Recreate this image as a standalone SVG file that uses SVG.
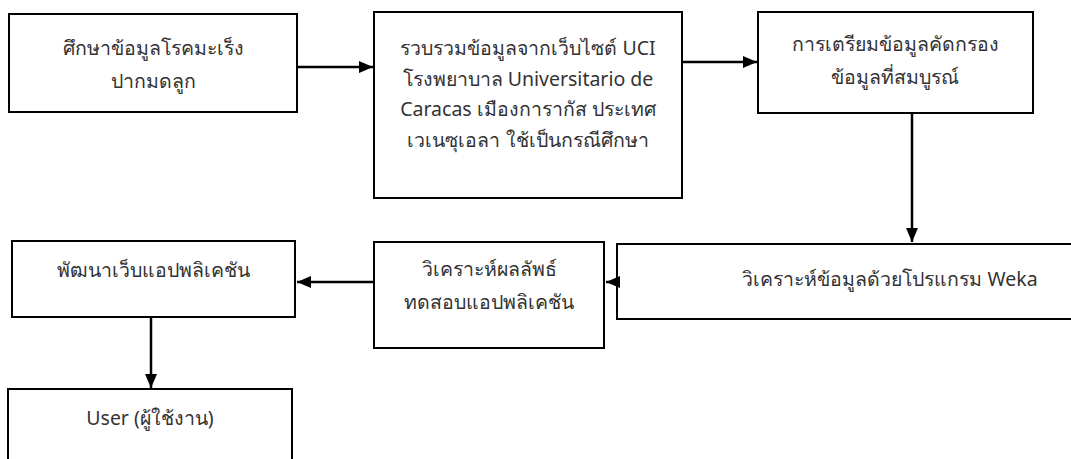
<svg xmlns="http://www.w3.org/2000/svg" width="1071" height="459" viewBox="0 0 1071 459">
<defs>
<style>
.box{fill:#fff;stroke:#000;stroke-width:2}
.t{font-family:"Noto Sans","Open Sans","DejaVu Sans",sans-serif;font-size:19.5px;fill:#333;text-anchor:middle}
.c{stroke:#000;stroke-width:2.5;fill:none}
</style>
<marker id="ah2" markerWidth="14" markerHeight="12" refX="14" refY="6" orient="auto" markerUnits="userSpaceOnUse" viewBox="0 0 14 12">
<path d="M0,0 L14,6 L0,12 z" fill="#000"/>
</marker>
</defs>
<rect width="1071" height="459" fill="#fff"/>
<g id="n1"><rect class="box" x="9" y="14" width="288" height="98"/>
<text class="t" x="153" y="55">ศึกษาข้อมูลโรคมะเร็ง</text><text class="t" x="153" y="88">ปากมดลูก</text></g>
<g id="n2"><rect class="box" x="374" y="12" width="308" height="186"/>
<text class="t" x="528" y="55">รวบรวมข้อมูลจากเว็บไซต์ UCI</text>
<text class="t" x="528" y="86">โรงพยาบาล Universitario de</text>
<text class="t" x="528" y="116">Caracas เมืองการากัส ประเทศ</text>
<text class="t" x="528" y="147">เวเนซุเอลา ใช้เป็นกรณีศึกษา</text></g>
<g id="n3"><rect class="box" x="758" y="12" width="275" height="101"/>
<text class="t" x="895" y="51">การเตรียมข้อมูลคัดกรอง</text><text class="t" x="895" y="84">ข้อมูลที่สมบูรณ์</text></g>
<g id="n4"><rect class="box" x="617" y="244" width="460" height="75"/>
<text class="t" x="890" y="286">วิเคราะห์ข้อมูลด้วยโปรแกรม Weka</text></g>
<g id="n5"><rect class="box" x="374" y="242" width="230" height="106"/>
<text class="t" x="489" y="276">วิเคราะห์ผลลัพธ์</text><text class="t" x="489" y="309">ทดสอบแอปพลิเคชัน</text></g>
<g id="n6"><rect class="box" x="12" y="241" width="283" height="76"/>
<text class="t" x="153" y="277">พัฒนาเว็บแอปพลิเคชัน</text></g>
<g id="n7"><rect class="box" x="8" y="389" width="284" height="80"/>
<text class="t" x="150" y="425">User (ผู้ใช้งาน)</text></g>
<g id="connectors">
<line class="c" x1="297" y1="67" x2="373" y2="67" marker-end="url(#ah2)"/>
<line class="c" x1="682" y1="62" x2="757" y2="62" marker-end="url(#ah2)"/>
<line class="c" x1="912" y1="113" x2="912" y2="242" marker-end="url(#ah2)"/>
<line class="c" x1="617" y1="282" x2="606" y2="282" marker-end="url(#ah2)"/>
<line class="c" x1="374" y1="282" x2="297" y2="282" marker-end="url(#ah2)"/>
<line class="c" x1="151" y1="317" x2="151" y2="388" marker-end="url(#ah2)"/>
</g>
</svg>
